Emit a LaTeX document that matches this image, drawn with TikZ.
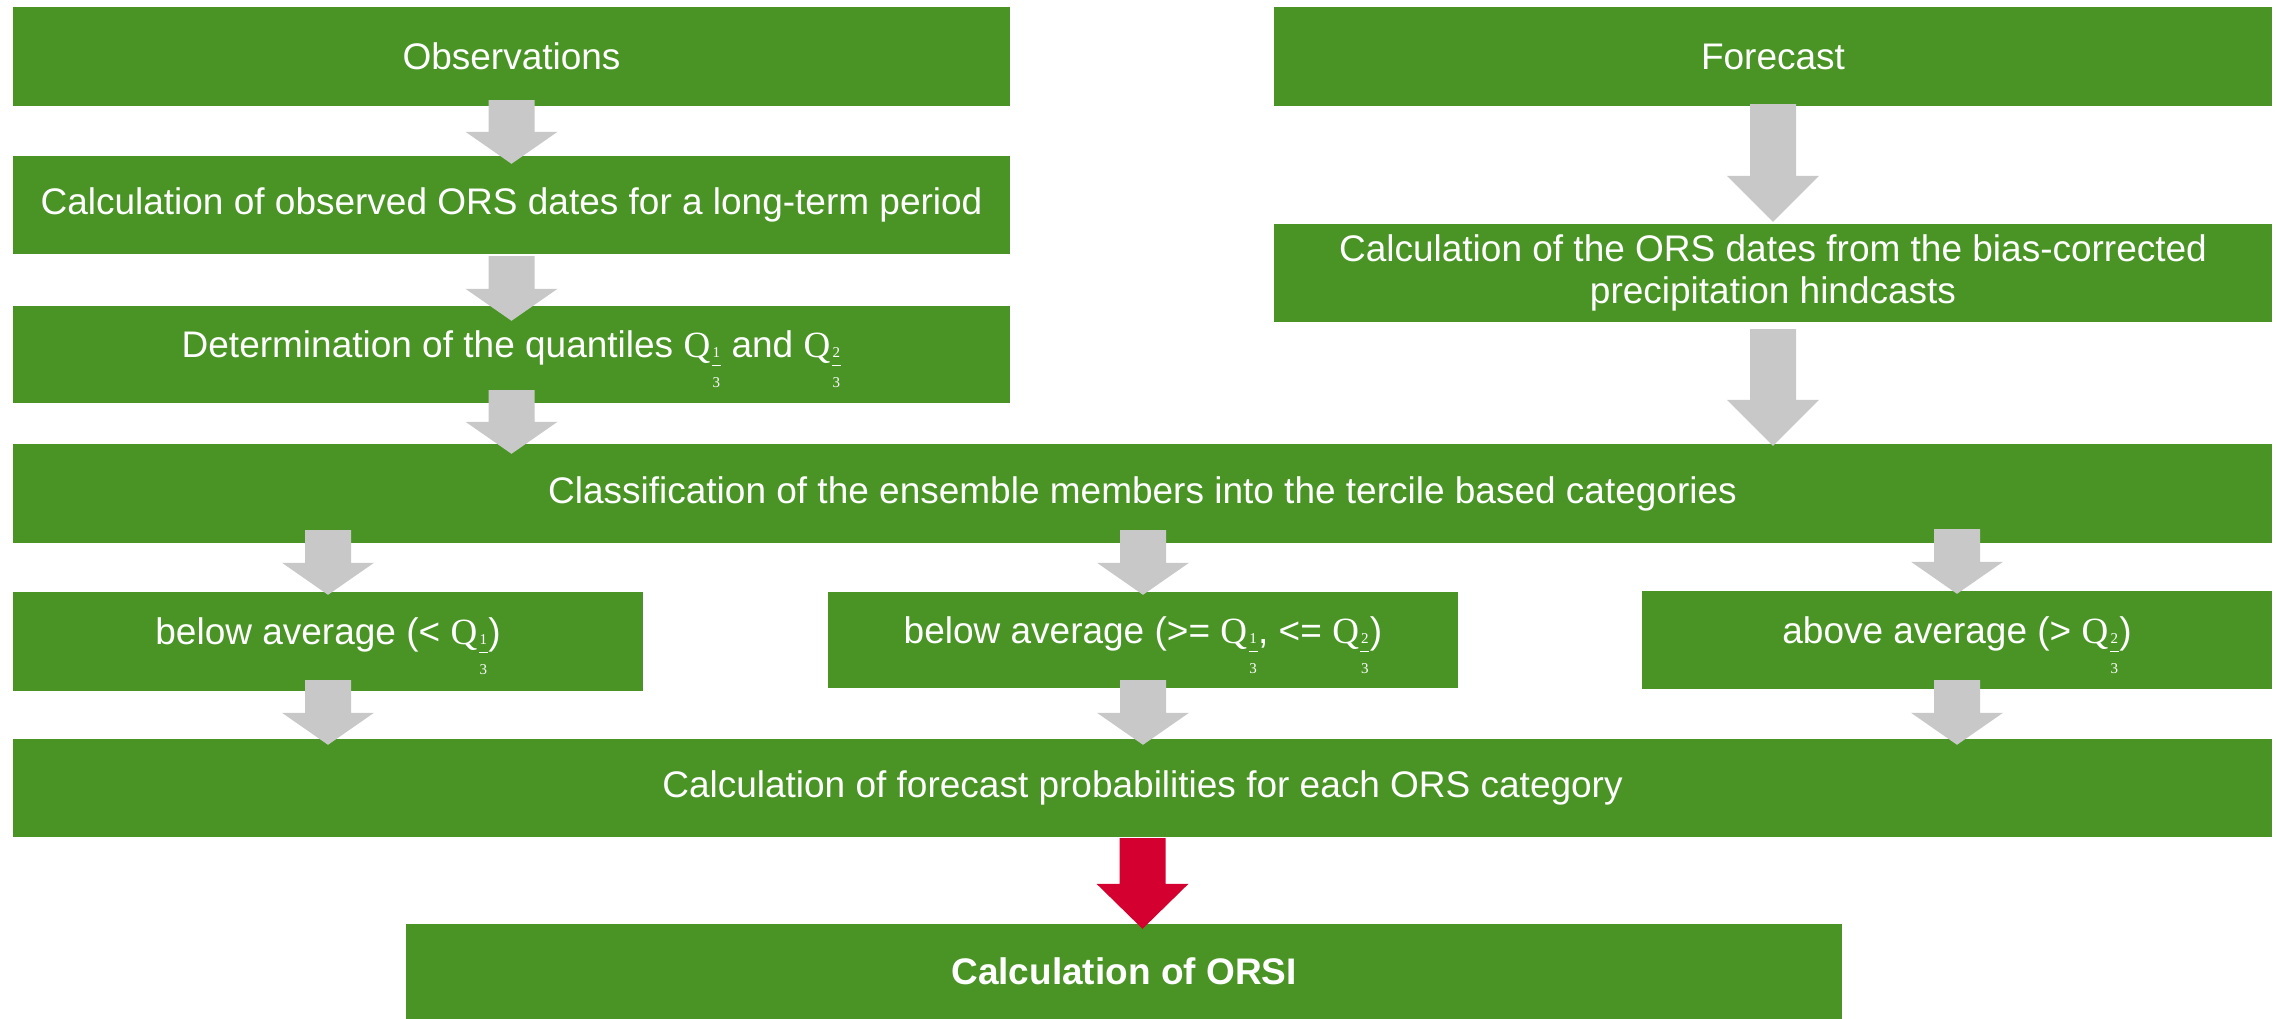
\documentclass[tikz,border=0pt]{standalone}
\usepackage{fontspec}
\setmainfont{Liberation Sans}
\newfontfamily\qfont{Liberation Serif}
\usetikzlibrary{calc}
\definecolor{boxgreen}{HTML}{4A9426}
\definecolor{arrgray}{HTML}{C8C8C8}
\definecolor{arrred}{HTML}{D40030}
\newcommand{\qsub}[1]{{\qfont Q}\kern1pt\makebox[10pt]{\fontsize{15}{15}\selectfont\qfont #1}\kern-10pt\makebox[10pt]{\raisebox{-8.5pt}{\rule{9pt}{1.4pt}}}\kern-10pt\makebox[10pt]{\raisebox{-30pt}{\fontsize{15}{15}\selectfont\qfont 3}}}
% #1 source, #2 target, #3 node giving x, #4 start above source bottom, #5 tip below target top, #6 head length, #7 style
\newcommand{\blockarr}[7]{%
  \fill[#7] let \p1=(#1.south), \p2=(#2.north), \p3=(#3.center) in
  ({\x3-23pt},{\y1+(#4)*1pt}) -- ({\x3+23pt},{\y1+(#4)*1pt}) --
  ({\x3+23pt},{\y2-(#5)*1pt+(#6)*1pt}) -- ({\x3+46pt},{\y2-(#5)*1pt+(#6)*1pt}) --
  ({\x3},{\y2-(#5)*1pt}) --
  ({\x3-46pt},{\y2-(#5)*1pt+(#6)*1pt}) -- ({\x3-23pt},{\y2-(#5)*1pt+(#6)*1pt}) -- cycle;}
\tikzset{
  box/.style={fill=boxgreen, text=white, inner sep=0pt, align=center,
    font=\fontsize{37}{42}\selectfont},
  qbox/.style={box, text depth=20pt},
  grayarr/.style={fill=arrgray},
  redarr/.style={fill=arrred}
}
\begin{document}
\begin{tikzpicture}[x=1pt,y=-1pt]
\useasboundingbox (0,0) rectangle (2277,1019);
\node[box, minimum width=997pt, minimum height=99pt] (obs) at (511.5,56.5) {Observations};
\node[box, minimum width=998pt, minimum height=99pt] (fc) at (1773,56.5) {Forecast};
\node[box, minimum width=997pt, minimum height=98pt] (calcobs) at (511.5,205) {Calculation of observed ORS dates for a long-term period};
\node[qbox, minimum width=997pt, minimum height=97pt] (det) at (511.5,354.5) {Determination of the quantiles \qsub{1} and \qsub{2}};
\node[box, minimum width=998pt, minimum height=98pt] (calcfc) at (1773,273) {Calculation of the ORS dates from the bias-corrected\\precipitation hindcasts};
\node[box, minimum width=2259pt, minimum height=99pt] (class) at (1142.5,493.5) {Classification of the ensemble members into the tercile based categories};
\node[qbox, minimum width=630pt, minimum height=99pt] (below) at (328,641.5) {below average (< \qsub{1})};
\node[qbox, minimum width=630pt, minimum height=96pt] (mid) at (1143,640) {below average (>= \qsub{1}, <= \qsub{2})};
\node[qbox, minimum width=630pt, minimum height=98pt] (above) at (1957,640) {above average (> \qsub{2})};
\node[box, minimum width=2259pt, minimum height=98pt] (fprob) at (1142.5,788) {Calculation of forecast probabilities for each ORS category};
\node[box, minimum width=1436pt, minimum height=95pt, font=\fontsize{37}{42}\selectfont\bfseries] (orsi) at (1124,971.5) {Calculation of ORSI};
% arrows
\blockarr{obs}{calcobs}{obs}{6}{8}{32}{grayarr}
\blockarr{calcobs}{det}{calcobs}{-2}{15}{32}{grayarr}
\blockarr{fc}{calcfc}{fc}{2}{-2}{46}{grayarr}
\blockarr{calcfc}{class}{calcfc}{-7}{2}{46}{grayarr}
\blockarr{det}{class}{det}{13}{10}{32}{grayarr}
\blockarr{class}{below}{below}{13}{3}{32}{grayarr}
\blockarr{class}{mid}{mid}{13}{3}{32}{grayarr}
\blockarr{class}{above}{above}{14}{3}{32}{grayarr}
\blockarr{below}{fprob}{below}{11}{6}{32}{grayarr}
\blockarr{mid}{fprob}{mid}{8}{6}{32}{grayarr}
\blockarr{above}{fprob}{above}{9}{6}{32}{grayarr}
\blockarr{fprob}{orsi}{fprob}{-1}{5}{45}{redarr}
\end{tikzpicture}
\end{document}
